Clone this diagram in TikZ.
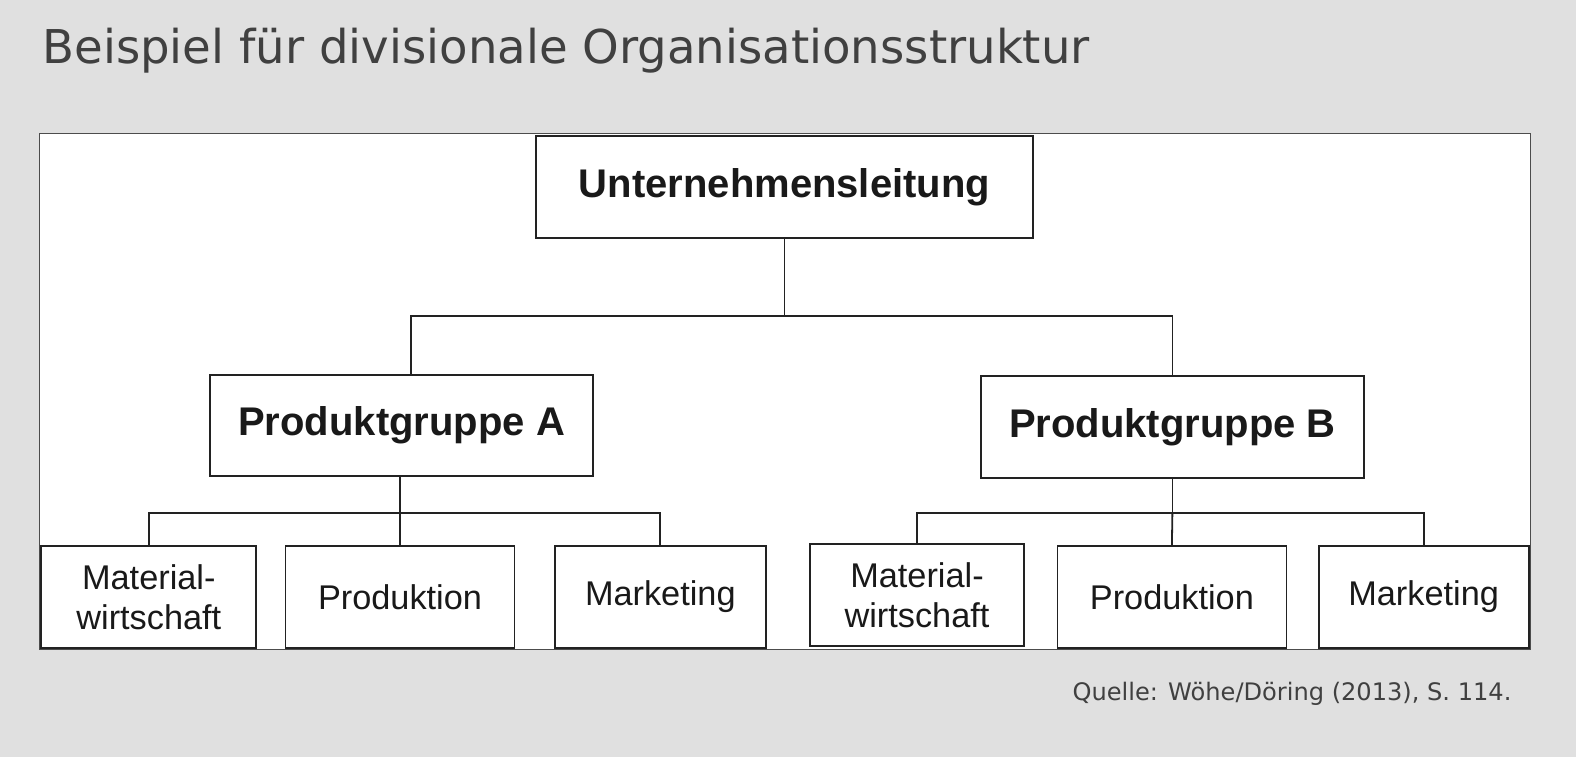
\documentclass[tikz,border=0pt]{standalone}
\usepackage{fontspec}
\setmainfont{Liberation Sans}
\newfontfamily\titlefont{DejaVu Sans}
\definecolor{slidebg}{HTML}{E0E0E0}
\definecolor{titlegray}{HTML}{404040}
\definecolor{boxline}{HTML}{222222}

\begin{document}
\begin{tikzpicture}[x=1pt,y=-1pt,
  orgbox/.style={draw=boxline,line width=1.8pt,fill=white,inner sep=0pt,align=center,text=black!90},
  headbox/.style={orgbox,font=\fontsize{40}{46}\selectfont\bfseries},
  leafbox/.style={orgbox,minimum height=102.5pt,font=\fontsize{34.3}{40.2}\selectfont},
  link/.style={draw=boxline,line width=1.8pt}]
  \fill[slidebg] (0,0) rectangle (1576,757);
  \node[anchor=base west,text=titlegray,font=\titlefont\fontsize{46.6}{52}\selectfont] (title) at (39,63.5) {Beispiel für divisionale Organisationsstruktur};
  \draw[draw=black!70,line width=1.4pt,fill=white] (39.2,133.7) rectangle (1530.7,649.3);

  \node[headbox,minimum width=497.5pt,minimum height=102.5pt] (ul) at (784.5,187) {Unternehmensleitung};
  \node[headbox,minimum width=383pt,minimum height=101.5pt] (pa) at (401.6,425.6) {Produktgruppe A};
  \node[headbox,minimum width=383pt,minimum height=102.5pt] (pb) at (1172.4,427) {Produktgruppe B};

  \node[leafbox,minimum width=215pt] (matA) at (148.8,597) {Material-\\wirtschaft};
  \node[leafbox,minimum width=229pt] (prodA) at (400,597) {Produktion};
  \node[leafbox,minimum width=211pt] (mktA) at (660.3,597) {Marketing};
  \node[leafbox,minimum width=214pt] (matB) at (917,595) {Material-\\wirtschaft};
  \node[leafbox,minimum width=229pt] (prodB) at (1171.9,597) {Produktion};
  \node[leafbox,minimum width=210pt] (mktB) at (1423.6,597) {Marketing};

  \coordinate (bus) at (411,315.6);
  \coordinate (busA) at (400,512.6);
  \coordinate (busB) at (1172.4,512.6);

  \draw[link] (ul.south) -- (ul.south |- bus);
  \draw[link] (bus |- pa.north) |- (bus -| pb.north) -- (pb.north);
  \draw[link] (pa.south -| busA) -- (busA);
  \draw[link] (matA.north) |- (busA) -| (mktA.north);
  \draw[link] (busA) -- (prodA.north);
  \draw[link] (pb.south) -- (busB);
  \draw[link] (matB.north) |- (busB) -| (mktB.north);
  \draw[link] (busB) -- (prodB.north);

  \node[anchor=base east,text=titlegray,font=\titlefont\fontsize{24.1}{28}\selectfont] (src) at (1515,700.5) {Quelle: Wöhe/Döring (2013), S. 114.};
\end{tikzpicture}
\end{document}
